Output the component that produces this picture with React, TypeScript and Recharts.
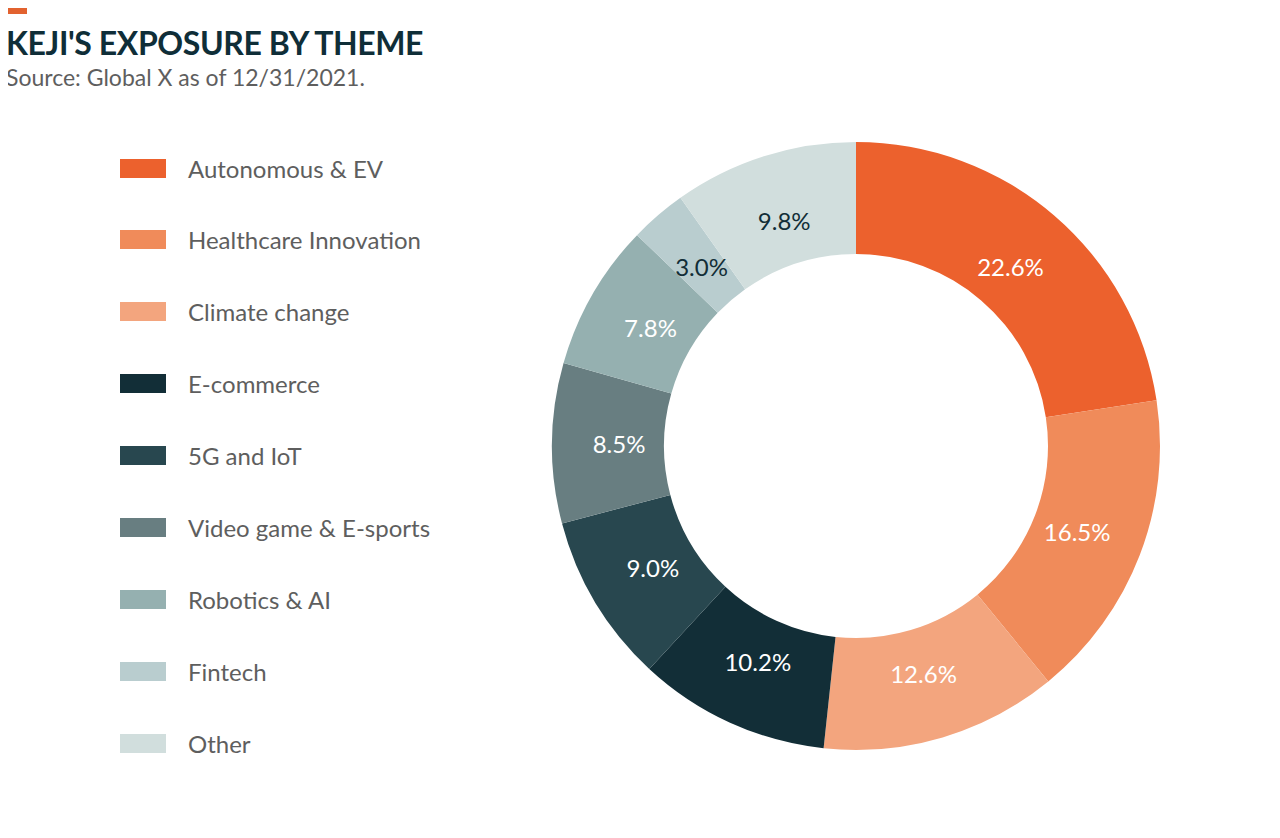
import { PieChart, Pie, Cell } from 'recharts';

const themes = [
  'Autonomous & EV',
  'Healthcare Innovation',
  'Climate change',
  'E-commerce',
  '5G and IoT',
  'Video game & E-sports',
  'Robotics & AI',
  'Fintech',
  'Other',
];
const shares = [22.6, 16.5, 12.6, 10.2, 9.0, 8.5, 7.8, 3.0, 9.8];
const colors = [
  '#EC612D', '#F08B5A', '#F3A57E', '#122E37', '#28474F',
  '#687E81', '#95B0B0', '#B9CDCF', '#D1DEDD',
];
const labelColors = [
  '#FFFFFF', '#FFFFFF', '#FFFFFF', '#FFFFFF', '#FFFFFF',
  '#FFFFFF', '#FFFFFF', '#122E37', '#122E37',
];

const data = themes.map((name, i) => ({ name, value: shares[i] }));

const FONT = 'Lato, "Open Sans", sans-serif';
const RAD = Math.PI / 180;

const renderLabel = ({ cx, cy, midAngle, index, value }: any) => {
  const r = 237;
  const x = cx + r * Math.cos(-midAngle * RAD);
  const y = cy + r * Math.sin(-midAngle * RAD);
  return (
    <text
      x={x}
      y={y}
      fill={labelColors[index]}
      textAnchor="middle"
      dominantBaseline="central"
      fontSize={24}
      fontFamily={FONT}
    >
      {value.toFixed(1)}%
    </text>
  );
};

export default function App() {
  return (
    <div style={{ position: 'relative', width: 1280, height: 838, margin: -8, background: '#fff', fontFamily: FONT }}>
      <div style={{ position: 'absolute', left: 6, top: 6, width: 21, height: 8, background: '#E2622F' }} />
      <div style={{ position: 'absolute', left: 6, top: 24, fontSize: 32, lineHeight: '38px', fontWeight: 700, color: '#0F2E38', letterSpacing: -0.4 }}>
        KEJI'S EXPOSURE BY THEME
      </div>
      <div style={{ position: 'absolute', left: 6, top: 63, fontSize: 23, lineHeight: '28px', color: '#5E5E5E' }}>
        Source: Global X as of 12/31/2021.
      </div>
      <div style={{ position: 'absolute', left: 120, top: 150 }}>
        {themes.map((t, i) => (
          <div key={t} style={{ position: 'absolute', top: i * 71.9, left: 0, display: 'flex', alignItems: 'center', height: 36, whiteSpace: 'nowrap' }}>
            <div style={{ width: 46, height: 19, background: colors[i] }} />
            <span style={{ marginLeft: 22, fontSize: 24, color: '#5E5E5E' }}>{t}</span>
          </div>
        ))}
      </div>
      <div style={{ position: 'absolute', left: 0, top: 0 }}>
        <PieChart width={1280} height={838} margin={{ top: 0, right: 0, bottom: 0, left: 0 }}>
          <Pie
            data={data}
            dataKey="value"
            nameKey="name"
            cx={856}
            cy={446}
            innerRadius={192}
            outerRadius={304}
            startAngle={90}
            endAngle={-270}
            stroke="none"
            label={renderLabel}
            labelLine={false}
            isAnimationActive={false}
          >
            {data.map((d, i) => (
              <Cell key={d.name} fill={colors[i]} />
            ))}
          </Pie>
        </PieChart>
      </div>
    </div>
  );
}
